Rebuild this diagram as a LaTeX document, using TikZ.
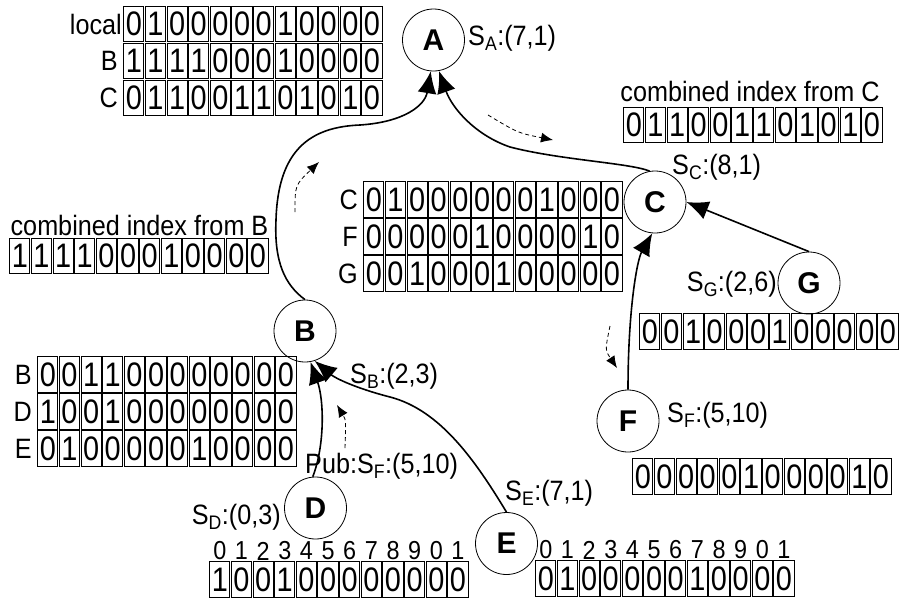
\documentclass[tikz,border=0pt]{standalone}
\usepackage{fontspec}
\setmainfont{Liberation Sans}
\newfontfamily\cellfont[FakeStretch=0.85]{Liberation Sans}
\newfontfamily\lblfont[FakeStretch=0.9]{Liberation Sans}
\usepackage{tikz}
\usetikzlibrary{positioning,calc,arrows.meta}
\tikzstyle{nod}=[circle, draw, line width=0.8pt, inner sep=0pt, minimum size=62pt, font=\fontsize{30}{30}\selectfont\bfseries]
\tikzstyle{cell}=[draw, line width=1pt, inner sep=0pt, minimum width=20.2pt, minimum height=35.6pt, font=\cellfont\fontsize{34}{34}\selectfont]
\tikzstyle{lbl}=[inner sep=0pt, font=\lblfont\fontsize{28}{28}\selectfont]
\tikzstyle{idx}=[inner sep=0pt, font=\lblfont\fontsize{26}{26}\selectfont]
\tikzstyle{link}=[-{Latex[length=22pt,width=19pt]}, line width=1.6pt]
\tikzstyle{flow}=[-{Latex[length=12pt,width=10pt]}, line width=0.8pt, dash pattern=on 4pt off 3pt]
\newcommand{\bitrow}[4]{%
  \foreach \bit [count=\i] in {#4}
    \node[cell] (#1\i) at ({#2+(\i-0.5)*21.65}, #3) {\bit};
}
\newcommand{\idxrow}[3]{%
  \foreach \digit [count=\i] in {0,1,2,3,4,5,6,7,8,9,0,1}
    \node[idx] (#1\i) at ({#2+(\i-0.5)*21.65}, #3) {\digit};
}

\begin{document}
\begin{tikzpicture}[x=1pt, y=-1pt]
				\useasboundingbox (0,0) rectangle (899,598);
				\node[nod] (A) at (433.5, 40) {A};
				\node[nod] (B) at (305, 331) {B};
				\node[nod] (C) at (655, 202) {C};
				\node[nod] (D) at (315.5, 508) {D};
				\node[nod] (E) at (506.5, 543.5) {E};
				\node[nod] (F) at (628, 421) {F};
				\node[nod] (G) at (809, 283) {G};
				\node[lbl, anchor=west] (sa) at (468, 38) {S\textsubscript{A}:(7,1)};
				\node[lbl, anchor=west] (sc) at (672, 167) {S\textsubscript{C}:(8,1)};
				\node[lbl, anchor=east] (sg) at (777, 284) {S\textsubscript{G}:(2,6)};
				\node[lbl, anchor=west] (sf) at (667, 415) {S\textsubscript{F}:(5,10)};
				\node[lbl, anchor=west] (se) at (505, 493) {S\textsubscript{E}:(7,1)};
				\node[lbl, anchor=east] (sd) at (281, 517) {S\textsubscript{D}:(0,3)};
				\node[lbl, anchor=west] (sb) at (350, 376) {S\textsubscript{B}:(2,3)};
				\node[lbl, anchor=west] (pub) at (305, 466) {Pub:S\textsubscript{F}:(5,10)};
				\bitrow{loc}{123}{24}{0,1,0,0,0,0,0,1,0,0,0,0}
				\bitrow{locB}{123}{61}{1,1,1,1,0,0,0,1,0,0,0,0}
				\bitrow{locC}{123}{98}{0,1,1,0,0,1,1,0,1,0,1,0}
				\node[lbl, anchor=east] (loclbl) at (122, 24) {local};
				\node[lbl, anchor=east] (locBlbl) at (118, 61) {B};
				\node[lbl, anchor=east] (locClbl) at (118, 98) {C};
				\node[lbl] (cbtxt) at (139.5, 225) {combined index from B};
				\bitrow{cb}{9}{256}{1,1,1,1,0,0,0,1,0,0,0,0}
				\node[lbl] (cctxt) at (750, 91.5) {combined index from C};
				\bitrow{cc}{623}{125}{0,1,1,0,0,1,1,0,1,0,1,0}
				\bitrow{cfgC}{363}{199.5}{0,1,0,0,0,0,0,0,1,0,0,0}
				\bitrow{cfgF}{363}{236.5}{0,0,0,0,0,1,0,0,0,0,1,0}
				\bitrow{cfgG}{363}{273.5}{0,0,1,0,0,0,1,0,0,0,0,0}
				\node[lbl, anchor=east] (cfgClbl) at (358, 199.5) {C};
				\node[lbl, anchor=east] (cfgFlbl) at (358, 236.5) {F};
				\node[lbl, anchor=east] (cfgGlbl) at (358, 273.5) {G};
				\bitrow{bdeB}{37}{374.5}{0,0,1,1,0,0,0,0,0,0,0,0}
				\bitrow{bdeD}{37}{411.5}{1,0,0,1,0,0,0,0,0,0,0,0}
				\bitrow{bdeE}{37}{448.5}{0,1,0,0,0,0,0,1,0,0,0,0}
				\node[lbl, anchor=east] (bdeBlbl) at (32, 374.5) {B};
				\node[lbl, anchor=east] (bdeDlbl) at (32, 411.5) {D};
				\node[lbl, anchor=east] (bdeElbl) at (32, 448.5) {E};
				\bitrow{gt}{639}{331.5}{0,0,1,0,0,0,1,0,0,0,0,0}
				\bitrow{ft}{632}{476.5}{0,0,0,0,0,1,0,0,0,0,1,0}
				\idxrow{dix}{209}{551}
				\bitrow{dt}{209}{579.5}{1,0,0,1,0,0,0,0,0,0,0,0}
				\idxrow{eix}{535}{550}
				\bitrow{et}{535}{578.5}{0,1,0,0,0,0,0,1,0,0,0,0}
				\draw[link] (B.north) .. controls (285,285) and (274,262) .. (276,220) .. controls (278,150) and (310,127) .. (360,125) .. controls (405,122) and (425,105) .. (A.-95);
				\draw[link] (C.100) .. controls (630,163) and (560,160) .. (510,147) .. controls (475,135) and (452,108) .. (A.-80);
				\draw[link] (G.north) -- (C.east);
				\draw[link] (F.north) .. controls (628,310) and (637,260) .. (C.-95);
				\draw[link] (D.95) .. controls (325,445) and (324,400) .. (B.-80);
				\draw[link] (E.north) .. controls (475,460) and (440,410) .. (390,397) .. controls (355,388) and (335,378) .. (B.-72);
				\coordinate (ba1) at (295, 212);
				\coordinate (ba2) at (319, 162);
				\coordinate (ac1) at (488, 115);
				\coordinate (ac2) at (553, 140);
				\coordinate (fc1) at (610, 326);
				\coordinate (fc2) at (617, 368);
				\coordinate (db1) at (345, 448);
				\coordinate (db2) at (337, 405);
				\draw[flow] (ba1) .. controls (295,185) .. (ba2);
				\draw[flow] (ac1) .. controls (518,133) .. (ac2);
				\draw[flow] (fc1) .. controls (605,350) .. (fc2);
				\draw[flow] (db1) .. controls (346,420) .. (db2);
			\end{tikzpicture}
\end{document}
